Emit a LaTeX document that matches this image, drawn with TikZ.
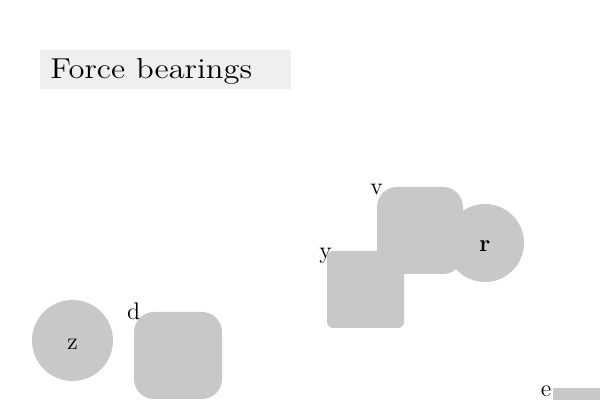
\documentclass[tikz,border=0pt]{standalone}
\definecolor{shapegray}{HTML}{C8C8C8}
\definecolor{titlegray}{HTML}{EFEFEF}
\begin{document}
\begin{tikzpicture}[x=0.5pt, y=-0.5pt,
  blob/.style={fill=shapegray, draw=none, inner sep=0pt, font=\large},
  disc/.style={blob, circle, text height=9pt, text depth=0pt},
  tile/.style={blob, rectangle, rounded corners=10pt},
  lab/.style={font=\large, inner sep=0pt}]
  \clip (0,0) rectangle (600,400);
  \node[anchor=north west, fill=titlegray, inner xsep=5pt, inner ysep=0pt,
        text width=115.5pt, text height=14pt, text depth=5.5pt, align=left,
        font=\Large] (title) at (40,50) {\scalebox{1.13}[1]{Force bearings}};
  \node[disc, minimum size=40.5pt] (z) at (72.5,340.5) {z};
  \node[tile, minimum width=44pt, minimum height=43.5pt] (d) at (178,355.5) {};
  \node[tile, minimum width=43pt, minimum height=43.5pt] (v) at (420,230.5) {};
  \node[disc, minimum size=39pt, font=\large\bfseries] (r) at (485,243) {r};
  \node[tile, rounded corners=3pt, minimum size=38.5pt] (y) at (365.5,289.5) {};
  \node[blob, rectangle, anchor=north west, minimum size=40pt] (e) at (553,388) {};
  \node[lab] (dlab) at (d.north west) {d};
  \node[lab] (vlab) at ([yshift=-1.5pt]v.north west) {v};
  \node[lab] (ylab) at ([shift={(-0.5pt,-2.5pt)}]y.north west) {y};
  \node[lab] (elab) at ([shift={(-3.5pt,-1.5pt)}]e.north west) {e};
\end{tikzpicture}
\end{document}
